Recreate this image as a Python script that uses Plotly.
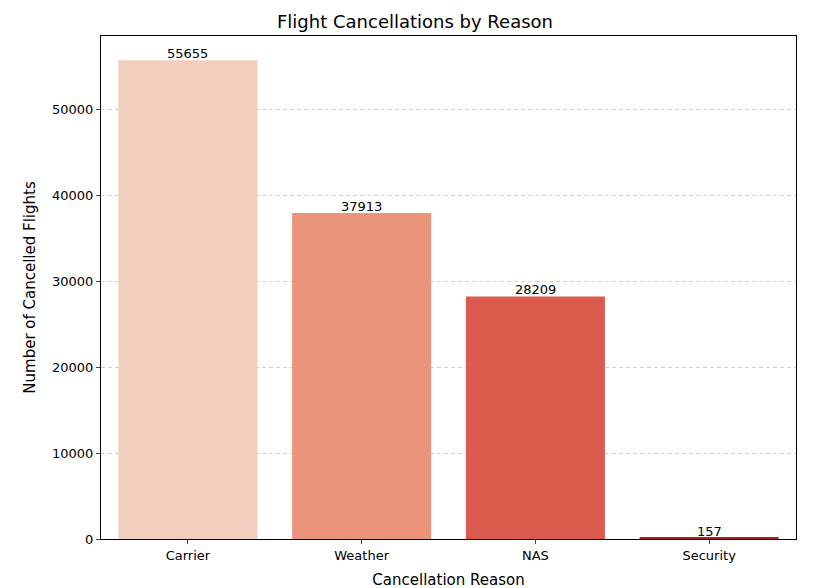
import plotly.graph_objects as go

reasons = ["Carrier", "Weather", "NAS", "Security"]
counts = [55655, 37913, 28209, 157]
colors = ["#f3cdbd", "#ea947a", "#db5a4b", "#b21c20"]

fig = go.Figure(go.Bar(x=reasons, y=counts, marker_color=colors, width=0.8,
                       marker_line_width=0))
for r, c in zip(reasons, counts):
    fig.add_annotation(x=r, y=c, text=str(c), showarrow=False, yanchor="bottom",
                       yshift=-3, font=dict(size=13, color="black"))

fig.update_layout(
    width=814, height=588, plot_bgcolor="white", paper_bgcolor="white",
    margin=dict(l=93, r=26, t=28, b=57, autoexpand=False),
    font=dict(family="DejaVu Sans", color="black"),
    title=dict(text="Flight Cancellations by Reason", x=0.5, xanchor="center",
               y=0.977, yanchor="middle", font=dict(size=18)),
    showlegend=False,
)
fig.update_xaxes(range=[-0.5, 3.5], showline=True, linecolor="black", mirror=True,
                 automargin=False,
                 ticks="outside", ticklen=4, tickfont=dict(size=13),
                 title=dict(text="Cancellation Reason", font=dict(size=15), standoff=12))
fig.update_yaxes(range=[0, 58488], showline=True, linecolor="black", mirror=True,
                 automargin=False, tickformat="d",
                 ticks="outside", ticklen=4, tickfont=dict(size=13), dtick=10000,
                 showgrid=True, gridcolor="#d0d0d0", griddash="4px,3px", zeroline=False,
                 title=dict(text="Number of Cancelled Flights", font=dict(size=15), standoff=12))
fig.write_html("out.html")
